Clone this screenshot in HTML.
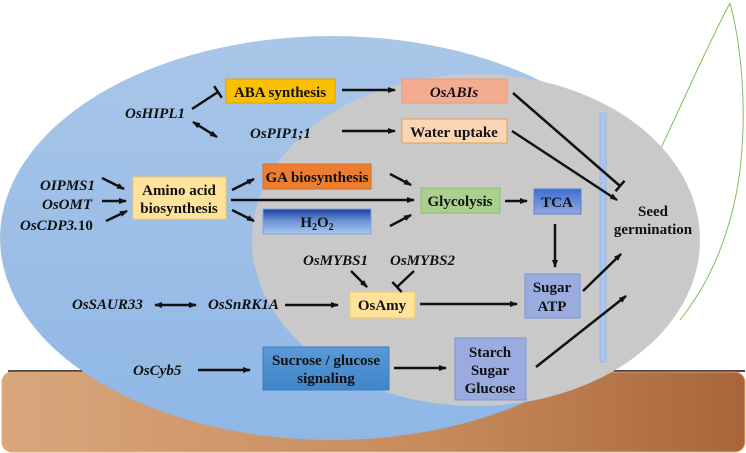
<!DOCTYPE html>
<html><head><meta charset="utf-8"><style>
html,body{margin:0;padding:0;background:#fff;}
svg{display:block;}
text{font-family:"Liberation Serif",serif;font-weight:bold;font-size:15px;fill:#111;}
.i{font-style:italic;}
</style></head><body>
<svg width="746" height="453" viewBox="0 0 746 453" xmlns="http://www.w3.org/2000/svg">
<defs>
<linearGradient id="soil" x1="0" x2="1" y1="0" y2="0"><stop offset="0" stop-color="#d9a67c"/><stop offset="0.6" stop-color="#c68a5a"/><stop offset="1" stop-color="#a8653a"/></linearGradient>
<linearGradient id="blue" x1="0" x2="0" y1="0" y2="1"><stop offset="0" stop-color="#a9c6e8"/><stop offset="1" stop-color="#8fb7e6"/></linearGradient>
<linearGradient id="h2o2" x1="0" x2="0" y1="0" y2="1"><stop offset="0" stop-color="#1f3f9a"/><stop offset="0.5" stop-color="#6e97d8"/><stop offset="1" stop-color="#a9c8ef"/></linearGradient>
<linearGradient id="tca" x1="0" x2="0" y1="0" y2="1"><stop offset="0" stop-color="#3f6fcf"/><stop offset="1" stop-color="#8fa8e0"/></linearGradient>
<linearGradient id="suc" x1="0" x2="0" y1="0" y2="1"><stop offset="0" stop-color="#5a9ad8"/><stop offset="1" stop-color="#3f85c8"/></linearGradient>
<marker id="a" markerWidth="8" markerHeight="8" refX="7" refY="4" orient="auto" markerUnits="userSpaceOnUse"><path d="M0,1 L8,4 L0,7z" fill="#111"/></marker>
<marker id="as" markerWidth="8" markerHeight="8" refX="1" refY="4" orient="auto" markerUnits="userSpaceOnUse"><path d="M8,1 L0,4 L8,7z" fill="#111"/></marker>
<marker id="t" markerWidth="4" markerHeight="14" refX="2" refY="7" orient="auto" markerUnits="userSpaceOnUse"><path d="M2,0 L2,14" stroke="#111" stroke-width="2.5"/></marker>
</defs>
<!-- leaf -->
<path d="M730,3 C700,60 680,110 655,160" fill="none" stroke="#7cc15a" stroke-width="1"/>
<path d="M730,3 C745,60 750,150 730,220 C718,262 702,292 680,320" fill="none" stroke="#7cc15a" stroke-width="1"/>
<!-- ground line -->
<line x1="8" y1="371" x2="745" y2="371" stroke="#111" stroke-width="1.5"/>
<rect x="2" y="372" width="743" height="80" rx="10" fill="url(#soil)" stroke="#e7a87a" stroke-width="1"/>
<ellipse cx="332" cy="238" rx="332" ry="202" fill="url(#blue)"/>
<ellipse cx="476" cy="240" rx="224" ry="166" fill="#c9c9c9"/>
<rect x="600" y="113" width="6" height="249" fill="#a9c6ef" stroke="#8fb2e6" stroke-width="0.8"/>
<!-- boxes -->
<rect x="226" y="79" width="109" height="24" fill="#fdc000" stroke="#d9a400"/>
<text x="280" y="97" text-anchor="middle">ABA synthesis</text>
<rect x="402" y="79" width="105" height="24" fill="#f4ac90" stroke="#eb9b7c"/>
<text x="454" y="97" text-anchor="middle" class="i">OsABIs</text>
<rect x="402" y="119" width="105" height="24" fill="#fcd5b4" stroke="#d9a45a"/>
<text x="454" y="137" text-anchor="middle">Water uptake</text>
<rect x="133" y="177" width="93" height="42" fill="#ffe39a" stroke="#f4c96a"/>
<text x="179" y="195" text-anchor="middle">Amino acid</text>
<text x="179" y="213" text-anchor="middle">biosynthesis</text>
<rect x="263" y="164" width="108" height="25" fill="#ed7d31" stroke="#d96a22"/>
<text x="317" y="182" text-anchor="middle">GA biosynthesis</text>
<rect x="263" y="209" width="108" height="25" fill="url(#h2o2)" stroke="#7da3de"/>
<text x="317" y="227" text-anchor="middle">H<tspan font-size="10" dy="3">2</tspan><tspan dy="-3">O</tspan><tspan font-size="10" dy="3">2</tspan></text>
<rect x="421" y="188" width="79" height="25" fill="#a9d08e" stroke="#8dbd6e"/>
<text x="460" y="206" text-anchor="middle">Glycolysis</text>
<rect x="534" y="189" width="47" height="25" fill="url(#tca)" stroke="#5c80d0"/>
<text x="557" y="207" text-anchor="middle">TCA</text>
<rect x="525" y="274" width="55" height="44" fill="#9aacdf" stroke="#7d95d6"/>
<text x="552" y="292" text-anchor="middle">Sugar</text>
<text x="552" y="311" text-anchor="middle">ATP</text>
<rect x="350" y="292" width="65" height="26" fill="#ffe39a" stroke="#f4c96a"/>
<text x="382" y="310" text-anchor="middle">OsAmy</text>
<rect x="263" y="347" width="126" height="43" fill="url(#suc)" stroke="#3c7fc0"/>
<text x="326" y="365" text-anchor="middle">Sucrose / glucose</text>
<text x="326" y="383" text-anchor="middle">signaling</text>
<rect x="455" y="338" width="71" height="62" fill="#9aacdf" stroke="#7d95d6"/>
<text x="490" y="357" text-anchor="middle">Starch</text>
<text x="490" y="375" text-anchor="middle">Sugar</text>
<text x="490" y="393" text-anchor="middle">Glucose</text>
<!-- labels -->
<text x="125" y="118" class="i">OsHIPL1</text>
<text x="250" y="138" class="i">OsPIP1;1</text>
<text x="40" y="190" class="i">OIPMS1</text>
<text x="42" y="209" class="i">OsOMT</text>
<text x="20" y="230" class="i">OsCDP3.<tspan font-style="normal">10</tspan></text>
<text x="303" y="265" class="i">OsMYBS1</text>
<text x="390" y="265" class="i">OsMYBS2</text>
<text x="72" y="309" class="i">OsSAUR33</text>
<text x="208" y="309" class="i">OsSnRK1A</text>
<text x="133" y="375" class="i">OsCyb5</text>
<text x="653" y="216" text-anchor="middle">Seed</text>
<text x="653" y="234" text-anchor="middle">germination</text>
<!-- arrows -->
<g stroke="#111" stroke-width="2.5" fill="none">
<line x1="192" y1="109" x2="218" y2="92" marker-end="url(#t)"/>
<line x1="193" y1="122" x2="217" y2="137" marker-start="url(#as)" marker-end="url(#a)"/>
<line x1="342" y1="90" x2="395" y2="90" marker-end="url(#a)"/>
<line x1="342" y1="131" x2="395" y2="131" marker-end="url(#a)"/>
<line x1="513" y1="93" x2="620" y2="186" marker-end="url(#t)"/>
<line x1="512" y1="131" x2="617" y2="200" marker-end="url(#a)"/>
<line x1="102" y1="178" x2="124" y2="189" marker-end="url(#a)"/>
<line x1="102" y1="201" x2="126" y2="201" marker-end="url(#a)"/>
<line x1="106" y1="221" x2="127" y2="211" marker-end="url(#a)"/>
<line x1="232" y1="190" x2="254" y2="179" marker-end="url(#a)"/>
<line x1="231" y1="200" x2="414" y2="200" marker-end="url(#a)"/>
<line x1="232" y1="210" x2="254" y2="221" marker-end="url(#a)"/>
<line x1="390" y1="174" x2="411" y2="185" marker-end="url(#a)"/>
<line x1="390" y1="226" x2="411" y2="215" marker-end="url(#a)"/>
<line x1="505" y1="201" x2="527" y2="201" marker-end="url(#a)"/>
<line x1="555" y1="224" x2="555" y2="267" marker-end="url(#a)"/>
<line x1="583" y1="291" x2="621" y2="254" marker-end="url(#a)"/>
<line x1="536" y1="367" x2="626" y2="296" marker-end="url(#a)"/>
<line x1="351" y1="271" x2="367" y2="287" marker-end="url(#a)"/>
<line x1="414" y1="271" x2="397" y2="287" marker-end="url(#t)"/>
<line x1="155" y1="305" x2="196" y2="305" marker-start="url(#as)" marker-end="url(#a)"/>
<line x1="285" y1="305" x2="338" y2="305" marker-end="url(#a)"/>
<line x1="420" y1="304" x2="517" y2="304" marker-end="url(#a)"/>
<line x1="198" y1="370" x2="250" y2="370" marker-end="url(#a)"/>
<line x1="394" y1="368" x2="446" y2="368" marker-end="url(#a)"/>
</g>
</svg>
</body></html>
